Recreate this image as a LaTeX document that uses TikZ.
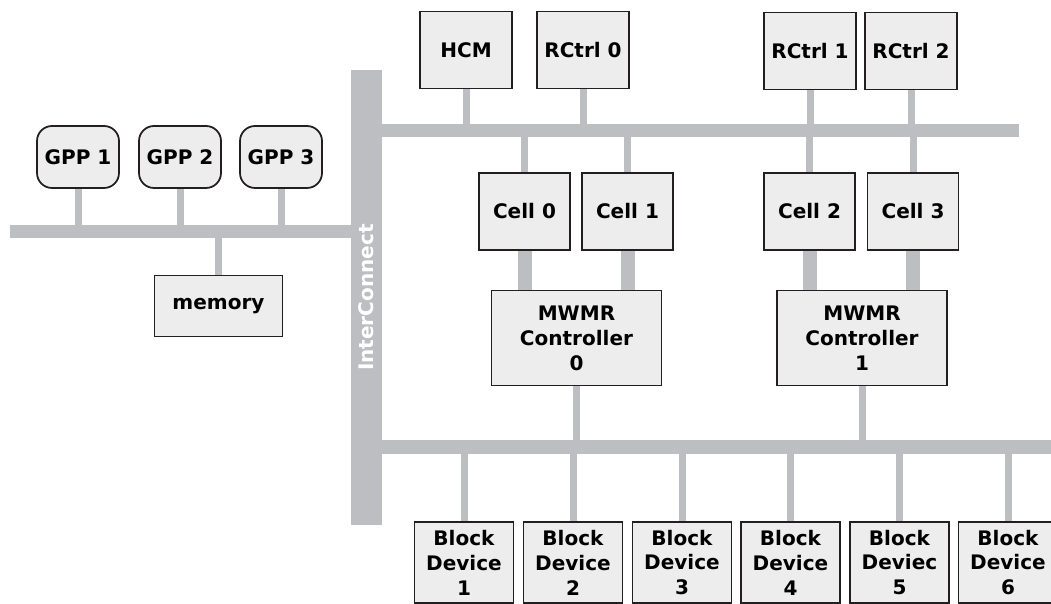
\documentclass[tikz,border=0pt]{standalone}
\usepackage{fontspec}
\setmainfont{DejaVu Sans}
\definecolor{busgray}{RGB}{189,190,193}
\definecolor{boxfill}{RGB}{237,237,237}
\definecolor{boxline}{RGB}{35,31,32}
\tikzset{
  unit/.style={draw=boxline,fill=boxfill,line width=1pt,align=center,inner sep=0pt,
    font=\bfseries\fontsize{11.4}{14.2}\selectfont},
  bus/.style={fill=busgray,inner sep=0pt,minimum height=0.27cm},
  stub/.style={busgray,line width=0.14cm},
  fatstub/.style={busgray,line width=0.28cm}
}
\begin{document}
\begin{tikzpicture}[x=0.02cm,y=-0.02cm]
  \clip (0,0) rectangle (1051,604);

  % buses
  \node[bus,rotate=90,minimum width=9.1cm,minimum height=0.61cm,text=white,
    font=\bfseries\fontsize{11.4}{14.2}\selectfont] (ic) at (366.3,297.5) {InterConnect};
  \node[bus,minimum width=6.96cm] (lbus) at (184,231.7) {};
  \node[bus,minimum width=12.88cm] (tbus) at (697,130.7) {};
  \node[bus,minimum width=13.7cm] (bbus) at (717.5,446.8) {};

  % general purpose side
  \node[unit,rounded corners=0.3cm,minimum width=1.64cm,minimum height=1.24cm] (gpp1) at (78,157) {GPP 1};
  \node[unit,rounded corners=0.3cm,minimum width=1.64cm,minimum height=1.24cm] (gpp2) at (180,157) {GPP 2};
  \node[unit,rounded corners=0.3cm,minimum width=1.64cm,minimum height=1.24cm] (gpp3) at (281,157) {GPP 3};
  \node[unit,minimum width=2.56cm,minimum height=1.22cm] (mem) at (218.5,306) {memory};
  \foreach \n in {gpp1,gpp2,gpp3,mem}
    \draw[stub] (\n) -- (\n |- lbus);

  % reconfigurable side
  \node[unit,minimum width=1.84cm,minimum height=1.54cm] (hcm) at (466,50) {HCM};
  \node[unit,minimum width=1.84cm,minimum height=1.54cm] (rc0) at (583,50) {RCtrl 0};
  \node[unit,minimum width=1.84cm,minimum height=1.54cm] (rc1) at (810,51) {RCtrl 1};
  \node[unit,minimum width=1.84cm,minimum height=1.54cm] (rc2) at (911,51) {RCtrl 2};
  \node[unit,minimum width=1.82cm,minimum height=1.54cm] (cell0) at (524.5,211.5) {Cell 0};
  \node[unit,minimum width=1.82cm,minimum height=1.54cm] (cell1) at (627.5,211.5) {Cell 1};
  \node[unit,minimum width=1.82cm,minimum height=1.54cm] (cell2) at (809.5,211.5) {Cell 2};
  \node[unit,minimum width=1.82cm,minimum height=1.54cm] (cell3) at (913,211.5) {Cell 3};
  \node[unit,minimum width=3.4cm,minimum height=1.9cm] (mwmr0) at (576.5,338) {MWMR\\Controller\\0};
  \node[unit,minimum width=3.4cm,minimum height=1.9cm] (mwmr1) at (862,338) {MWMR\\Controller\\1};
  \foreach \n in {hcm,rc0,rc1,rc2,cell0,cell1,cell2,cell3}
    \draw[stub] (\n) -- (\n |- tbus);
  \draw[fatstub] (cell0) -- (cell0 |- mwmr0.north);
  \draw[fatstub] (cell1) -- (cell1 |- mwmr0.north);
  \draw[fatstub] (cell2) -- (cell2 |- mwmr1.north);
  \draw[fatstub] (cell3) -- (cell3 |- mwmr1.north);
  \draw[stub] (mwmr0) -- (mwmr0 |- bbus);
  \draw[stub] (mwmr1) -- (mwmr1 |- bbus);

  % block devices
  \foreach \i/\x/\t in {1/464/Device,2/573/Device,3/682/Device,4/790.5/Device,5/899.5/Deviec,6/1008/Device} {
    \node[unit,minimum width=1.98cm,minimum height=1.62cm] (bd\i) at (\x,562.5) {Block\\\t\\\i};
    \draw[stub] (bd\i) -- (bd\i |- bbus);
  }
\end{tikzpicture}
\end{document}
